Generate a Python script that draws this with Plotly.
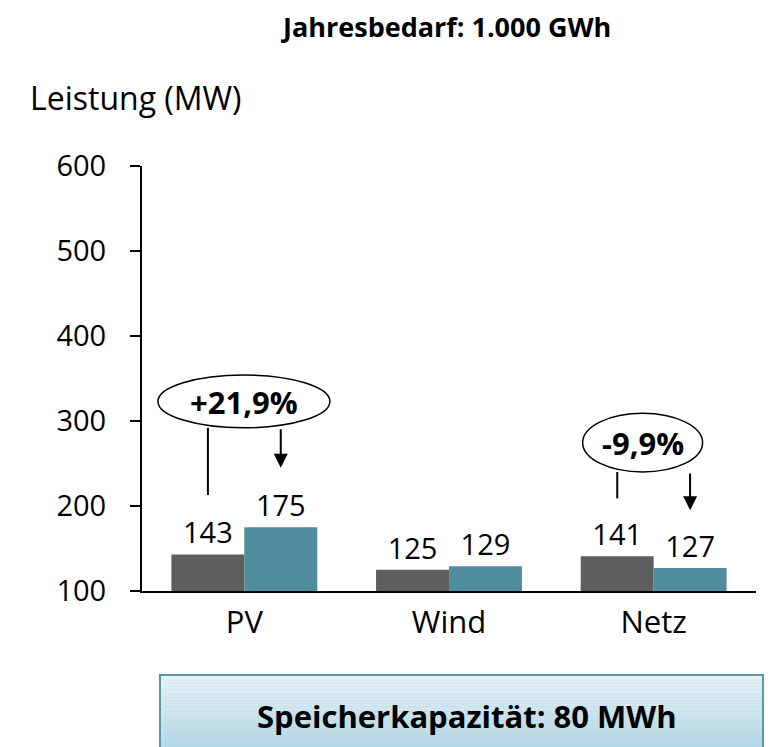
import plotly.graph_objects as go

categories = ["PV", "Wind", "Netz"]
series_a = [143, 125, 141]   # dark grey
series_b = [175, 129, 127]   # teal
change_labels = ["+21,9%", None, "-9,9%"]
y_ticks = [100, 200, 300, 400, 500, 600]

FONT = "Open Sans, sans-serif"
DARK = "#5e5e5e"
TEAL = "#4f8d9e"

# screen-pixel layout (page body has an 8px margin)
OFF = 8
PL, PR, PT, PB = 142, 756, 166, 591   # plot area on screen
W, H = 772 - OFF, 747 - OFF


def px(sx):
    return (sx - PL) / (PR - PL)


def py(sy):
    return (PB - sy) / (PB - PT)


fig = go.Figure()
for vals, col in ((series_a, DARK), (series_b, TEAL)):
    fig.add_trace(go.Bar(x=categories, y=vals, marker_color=col, marker_line_width=0,
                         text=[str(v) for v in vals], textposition="outside",
                         textfont=dict(size=29, color="black", family=FONT),
                         cliponaxis=False))

shapes = []
annotations = []
half = 0.178  # half bar width in category units (centres of grouped bars)

callouts = {
    0: dict(ex0=-0.422, ex1=0.418, ey0=292, ey1=354, tx=0.0, ty=322, line_end=213, arrow_end=245),
    2: dict(ex0=-0.347, ex1=0.239, ey0=240, ey1=309, tx=-0.054, ty=274, line_end=209, arrow_end=195),
}
for i, c in callouts.items():
    shapes.append(dict(type="circle", xref="x", yref="y", x0=i + c["ex0"], x1=i + c["ex1"],
                       y0=c["ey0"], y1=c["ey1"], line=dict(color="black", width=1.5),
                       fillcolor="white", layer="above"))
    shapes.append(dict(type="line", xref="x", yref="y", x0=i - half, x1=i - half,
                       y0=c["ey0"], y1=c["line_end"], line=dict(color="black", width=2)))
    annotations.append(dict(x=i + half, y=c["arrow_end"], ax=i + half, ay=c["ey0"],
                            xref="x", yref="y", axref="x", ayref="y", text="",
                            showarrow=True, arrowhead=2, arrowsize=1.4, arrowwidth=2,
                            arrowcolor="black"))
    annotations.append(dict(x=i + c["tx"], y=c["ty"], xref="x", yref="y",
                            text="<b>" + change_labels[i] + "</b>", showarrow=False,
                            font=dict(size=31, color="black", family=FONT)))

# bottom box with vertical gradient (stripes) and small shadow
bx0, bx1, by0, by1 = px(160), px(763), py(675), py(760)
shapes.append(dict(type="rect", xref="paper", yref="paper", x0=px(164), x1=px(768),
                   y0=by1, y1=py(680), line=dict(width=0), fillcolor="#c8c8c8",
                   layer="below"))
n = 30
top_c = (229, 241, 247)
bot_c = (170, 212, 228)
for k in range(n):
    t = k / (n - 1)
    col = tuple(round(top_c[j] + (bot_c[j] - top_c[j]) * t) for j in range(3))
    y0 = by0 + (by1 - by0) * k / n
    y1 = by0 + (by1 - by0) * (k + 1) / n
    shapes.append(dict(type="rect", xref="paper", yref="paper", x0=bx0, x1=bx1,
                       y0=y0, y1=y1, line=dict(width=0), fillcolor="rgb(%d,%d,%d)" % col,
                       layer="below"))
shapes.append(dict(type="rect", xref="paper", yref="paper", x0=bx0, x1=bx1,
                   y0=by1, y1=by0, line=dict(color="#5f97a7", width=2),
                   fillcolor="rgba(0,0,0,0)"))

annotations.append(dict(x=px(467), y=py(716), xref="paper", yref="paper",
                        xanchor="center", yanchor="middle",
                        text="<b>Speicherkapazität: 80 MWh</b>", showarrow=False,
                        font=dict(size=31, color="black", family=FONT)))
annotations.append(dict(x=px(446), y=py(27), xref="paper", yref="paper",
                        xanchor="center", yanchor="middle",
                        text="<b>Jahresbedarf: 1.000 GWh</b>", showarrow=False,
                        font=dict(size=27, color="black", family=FONT)))
annotations.append(dict(x=px(28), y=py(97), xref="paper", yref="paper",
                        xanchor="left", yanchor="middle",
                        text="Leistung (MW)", showarrow=False,
                        font=dict(size=32, color="black", family=FONT)))

fig.update_layout(
    width=W, height=H,
    margin=dict(l=PL - OFF, r=W - (PR - OFF), t=PT - OFF, b=H - (PB - OFF)),
    paper_bgcolor="white", plot_bgcolor="white",
    barmode="group", bargap=0.287, bargroupgap=0,
    showlegend=False,
    shapes=shapes, annotations=annotations,
    font=dict(family=FONT, color="black"),
)
fig.update_xaxes(range=[-0.5, 2.5], showline=True, linecolor="black", linewidth=2,
                 ticks="", tickfont=dict(size=31, family=FONT), showgrid=False,
                 ticklabelstandoff=3)
fig.update_yaxes(range=[100, 600], tickvals=y_ticks, showline=True, linecolor="black",
                 linewidth=2, ticks="outside", ticklen=10, tickwidth=2, tickcolor="black",
                 tickfont=dict(size=29, family=FONT), showgrid=False, zeroline=False,
                 ticklabelstandoff=18)

fig.write_html("out.html")
